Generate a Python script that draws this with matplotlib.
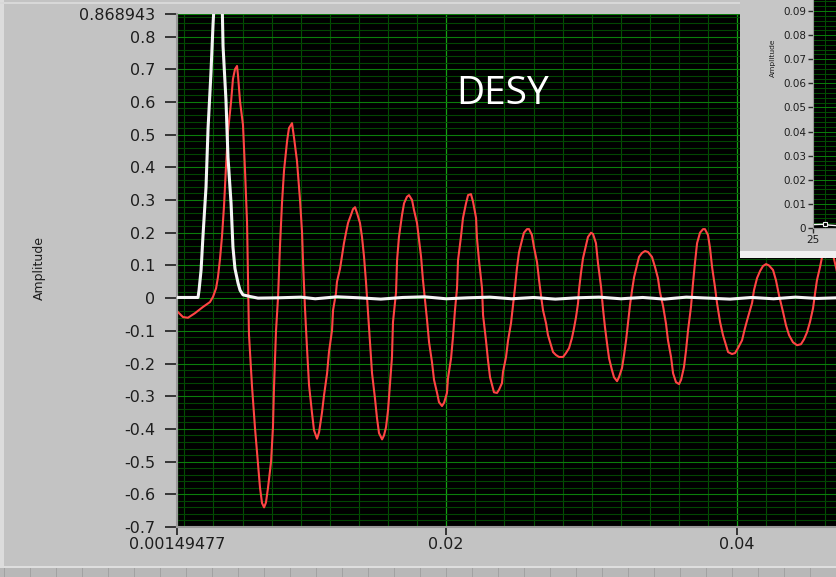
import numpy as np
import matplotlib.pyplot as plt
from matplotlib.patches import Rectangle

# red trace (time in ms, amplitude)
red_t_ms = [1.50, 1.91, 2.25, 2.73, 3.28, 3.76, 3.97, 4.18, 4.31, 4.45, 4.59, 4.73, 4.86, 5.00,
	5.21, 5.34, 5.48, 5.62, 5.69, 5.83, 6.03, 6.17, 6.31, 6.38, 6.44, 6.65, 6.86, 7.06, 7.20,
	7.34, 7.48, 7.61, 7.75, 7.96, 8.09, 8.16, 8.30, 8.44, 8.57, 8.71, 8.85, 9.06, 9.19, 9.40,
	9.54, 9.74, 9.95, 10.09, 10.16, 10.29, 10.43, 10.57, 10.77, 10.91, 11.12, 11.26, 11.46,
	11.60, 11.81, 11.94, 12.15, 12.22, 12.42, 12.49, 12.70, 12.84, 12.97, 13.11, 13.25, 13.45,
	13.59, 13.73, 13.87, 14.07, 14.21, 14.35, 14.49, 14.62, 14.76, 14.90, 15.10, 15.24, 15.38,
	15.59, 15.72, 15.86, 16.00, 16.13, 16.27, 16.34, 16.55, 16.62, 16.75, 16.96, 17.10, 17.30,
	17.44, 17.65, 17.78, 17.99, 18.13, 18.27, 18.40, 18.54, 18.68, 18.82, 19.02, 19.16, 19.37,
	19.50, 19.71, 19.85, 20.05, 20.12, 20.33, 20.46, 20.60, 20.74, 20.81, 21.01, 21.15, 21.36,
	21.50, 21.70, 21.84, 22.05, 22.11, 22.25, 22.46, 22.53, 22.73, 22.87, 23.01, 23.15, 23.28,
	23.49, 23.63, 23.83, 23.90, 24.11, 24.25, 24.45, 24.59, 24.73, 24.86, 25.00, 25.21, 25.34,
	25.55, 25.69, 25.89, 26.03, 26.24, 26.38, 26.51, 26.65, 26.86, 26.99, 27.20, 27.34, 27.54,
	27.75, 28.03, 28.23, 28.44, 28.64, 28.78, 28.92, 29.06, 29.12, 29.26, 29.40, 29.61, 29.74,
	29.95, 30.09, 30.29, 30.43, 30.64, 30.77, 30.91, 31.05, 31.19, 31.39, 31.53, 31.74, 31.87,
	32.08, 32.22, 32.36, 32.49, 32.63, 32.77, 32.91, 33.11, 33.25, 33.45, 33.66, 33.87, 34.14,
	34.35, 34.55, 34.69, 34.90, 35.10, 35.24, 35.45, 35.59, 35.79, 36.00, 36.14, 36.34, 36.48,
	36.62, 36.82, 36.96, 37.10, 37.24, 37.44, 37.65, 37.78, 37.99, 38.13, 38.27, 38.47, 38.61,
	38.82, 39.02, 39.23, 39.37, 39.64, 39.85, 40.05, 40.33, 40.53, 40.74, 41.02, 41.15, 41.36,
	41.57, 41.77, 41.98, 42.18, 42.46, 42.66, 42.87, 43.15, 43.35, 43.56, 43.83, 44.11, 44.38,
	44.59, 44.80, 45.00, 45.21, 45.35, 45.48, 45.69, 45.83, 46.03, 46.24, 46.44, 46.65, 46.86]
red_amp = [-0.040, -0.058, -0.060, -0.046, -0.027, -0.012, 0.004, 0.030, 0.064, 0.120, 0.190,
	0.285, 0.400, 0.510, 0.600, 0.670, 0.700, 0.710, 0.680, 0.600, 0.530, 0.390, 0.230, 0.050,
	-0.110, -0.270, -0.400, -0.505, -0.580, -0.627, -0.640, -0.625, -0.580, -0.500, -0.395,
	-0.275, -0.100, 0.003, 0.156, 0.290, 0.390, 0.480, 0.520, 0.535, 0.490, 0.420, 0.300, 0.200,
	0.107, -0.030, -0.153, -0.266, -0.350, -0.404, -0.430, -0.410, -0.350, -0.297, -0.230,
	-0.165, -0.098, -0.037, 0.015, 0.050, 0.090, 0.130, 0.168, 0.200, 0.230, 0.254, 0.272,
	0.278, 0.260, 0.230, 0.187, 0.126, 0.046, -0.043, -0.138, -0.230, -0.306, -0.367, -0.413,
	-0.432, -0.420, -0.395, -0.343, -0.266, -0.180, -0.073, 0.018, 0.116, 0.187, 0.254, 0.290,
	0.310, 0.315, 0.300, 0.270, 0.230, 0.178, 0.126, 0.055, -0.006, -0.067, -0.135, -0.196,
	-0.250, -0.290, -0.318, -0.330, -0.320, -0.290, -0.245, -0.184, -0.120, -0.037, 0.030,
	0.116, 0.187, 0.245, 0.290, 0.315, 0.318, 0.295, 0.245, 0.184, 0.116, 0.030, -0.052, -0.129,
	-0.190, -0.242, -0.266, -0.288, -0.290, -0.280, -0.260, -0.226, -0.180, -0.129, -0.077,
	-0.021, 0.034, 0.092, 0.140, 0.178, 0.200, 0.211, 0.211, 0.193, 0.156, 0.110, 0.055, 0.009,
	-0.037, -0.077, -0.113, -0.144, -0.165, -0.174, -0.180, -0.180, -0.168, -0.153, -0.122,
	-0.092, -0.058, -0.015, 0.024, 0.077, 0.122, 0.162, 0.187, 0.200, 0.196, 0.168, 0.107,
	0.034, -0.031, -0.089, -0.138, -0.184, -0.220, -0.242, -0.254, -0.242, -0.214, -0.174,
	-0.129, -0.077, -0.021, 0.024, 0.064, 0.100, 0.126, 0.138, 0.144, 0.141, 0.126, 0.095,
	0.061, 0.018, -0.024, -0.077, -0.129, -0.180, -0.230, -0.257, -0.263, -0.250, -0.211,
	-0.160, -0.098, -0.027, 0.046, 0.110, 0.168, 0.200, 0.211, 0.211, 0.193, 0.153, 0.095,
	0.034, -0.015, -0.073, -0.113, -0.144, -0.165, -0.171, -0.168, -0.153, -0.129, -0.092,
	-0.058, -0.015, 0.024, 0.061, 0.083, 0.098, 0.104, 0.100, 0.086, 0.055, 0.009, -0.043,
	-0.083, -0.113, -0.135, -0.144, -0.141, -0.126, -0.104, -0.073, -0.031, 0.015, 0.055,
	0.095, 0.126, 0.160, 0.175, 0.165, 0.120, 0.080]

# white trace (the pulse, then the noisy baseline)
white_t_ms = [1.50, 2.94, 3.01, 3.15, 3.28, 3.49, 3.63, 3.83, 3.97, 4.11, 4.38, 4.59, 4.66,
	4.86, 5.00, 5.21, 5.34, 5.48, 5.69, 5.83, 6.03, 6.51, 7.06, 8.5, 10.0, 11.0, 12.5, 14.0,
	15.5, 17.0, 18.5, 20.0, 21.5, 23.0, 24.5, 26.0, 27.5, 29.0, 30.5, 32.0, 33.5, 35.0, 36.5,
	38.0, 39.5, 41.0, 42.5, 44.0, 45.5, 46.9]
white_amp = [0.002, 0.002, 0.024, 0.086, 0.190, 0.340, 0.520, 0.690, 0.836, 0.950, 1.000,
	0.920, 0.770, 0.606, 0.430, 0.290, 0.156, 0.090, 0.046, 0.024, 0.010, 0.005, 0.000, 0.001,
	0.003, -0.002, 0.004, 0.001, -0.003, 0.002, 0.004, -0.002, 0.001, 0.003, -0.002, 0.002,
	-0.003, 0.001, 0.003, -0.002, 0.002, -0.003, 0.003, 0.000, -0.003, 0.002, -0.002, 0.003,
	-0.001, 0.001]

y_ticks = [-0.7, -0.6, -0.5, -0.4, -0.3, -0.2, -0.1, 0, 0.1, 0.2, 0.3, 0.4, 0.5, 0.6, 0.7, 0.8, 0.868943]
y_labels = ['-0.7', '-0.6', '-0.5', '-0.4', '-0.3', '-0.2', '-0.1', '0', '0.1', '0.2', '0.3',
	'0.4', '0.5', '0.6', '0.7', '0.8', '0.868943']
x_ticks = [0.00149477, 0.02, 0.04]
x_labels = ['0.00149477', '0.02', '0.04']
x_min, x_max = 0.00149477, 0.046788
y_min, y_max = -0.7, 0.868943

# the small graph in the corner
inset_x = [25.0, 25.3, 25.5, 25.7, 26.0]
inset_amp = [0.0014, 0.0015, 0.0015, 0.0012, 0.0010]
inset_ticks = [0, 0.01, 0.02, 0.03, 0.04, 0.05, 0.06, 0.07, 0.08, 0.09]
inset_labels = ['0', '0.01', '0.02', '0.03', '0.04', '0.05', '0.06', '0.07', '0.08', '0.09']

W, H = 836, 577
PANEL = '#c3c3c3'
TXT = '#1e1e1e'


def fx(px):
	return px / W

def fy(py):
	return 1 - py / H

def fig_rect(fig, x0, y0, x1, y1, color, z):
	# rectangle given in screen pixels (y downwards)
	fig.patches.append(Rectangle((fx(x0), fy(y1)), fx(x1) - fx(x0), fy(y0) - fy(y1),
		transform=fig.transFigure, facecolor=color, edgecolor='none', zorder=z))


def main_graph(fig):
	ax = fig.add_axes([fx(177), fy(527), fx(836) - fx(177), fy(14) - fy(527)])
	ax.set_facecolor('black')
	t = np.array(red_t_ms) / 1000.0
	tw = np.array(white_t_ms) / 1000.0
	ax.plot(t, red_amp, color='#ff4444', lw=1.5, zorder=2)
	ax.plot(tw, white_amp, color='#f4f4f4', lw=2.2, zorder=3)
	ax.set_xlim(x_min, x_max)
	ax.set_ylim(y_min, y_max)

	ax.set_yticks(y_ticks)
	ax.set_yticklabels(y_labels)
	ax.set_xticks(x_ticks)
	ax.set_xticklabels(x_labels)
	ax.set_yticks(np.arange(-0.7, 0.87, 0.02), minor=True)
	ax.set_xticks(np.arange(0.002, 0.0468, 0.002), minor=True)
	ax.set_axisbelow(True)
	ax.yaxis.grid(True, which='minor', color='#024602', lw=0.8)
	ax.xaxis.grid(True, which='minor', color='#034e03', lw=0.8)
	ax.yaxis.grid(True, which='major', color='#0b7d0b', lw=0.8)
	ax.xaxis.grid(True, which='major', color='#14a014', lw=0.9)

	ax.tick_params(which='minor', length=0)
	ax.tick_params(axis='y', which='major', direction='out', length=8.5, width=1.3,
		color='#2a2a2a', pad=7, labelsize=11.5, labelcolor=TXT)
	ax.tick_params(axis='x', which='major', direction='out', length=5.5, width=1.3,
		color='#2a2a2a', pad=2, labelsize=11.5, labelcolor=TXT)
	for s in ['top', 'right']:
		ax.spines[s].set_visible(False)
	for s in ['left', 'bottom']:
		ax.spines[s].set_color('#9a9a9a')
		ax.spines[s].set_linewidth(1.5)
	return ax


def corner_graph(fig):
	# grey panel of the second graph lying on top of the first
	fig_rect(fig, 740, 0, 836, 251, '#c6c6c6', 5)
	fig_rect(fig, 740, 251, 836, 258, '#f0f0f0', 5)
	ax = fig.add_axes([fx(813), fy(228), fx(836) - fx(813), fy(0) - fy(228)], zorder=10)
	ax.set_facecolor('black')
	ax.plot(inset_x, inset_amp, color='#f4f4f4', lw=1.0, marker='s', markevery=[2],
		markersize=3.5, markerfacecolor='black', markeredgecolor='#f4f4f4', mew=0.8)
	ax.set_xlim(25, 26)
	ax.set_ylim(0, 0.0946)
	ax.set_yticks(inset_ticks)
	ax.set_yticklabels(inset_labels)
	ax.set_xticks([25])
	ax.set_xticklabels(['25'])
	ax.set_yticks(np.arange(0, 0.095, 0.002), minor=True)
	ax.set_xticks([25.5], minor=True)
	ax.set_axisbelow(True)
	ax.grid(True, which='minor', color='#034e03', lw=0.7)
	ax.grid(True, which='major', color='#0b7d0b', lw=0.7)
	ax.tick_params(which='minor', length=0)
	ax.tick_params(which='major', direction='out', length=3.5, width=1.0, color='#2a2a2a',
		pad=1.5, labelsize=7.5, labelcolor=TXT)
	for s in ['top', 'right']:
		ax.spines[s].set_visible(False)
	for s in ['left', 'bottom']:
		ax.spines[s].set_color('#9a9a9a')
	fig.text(fx(773), fy(58), 'Amplitude', rotation=90, fontsize=5.4, color=TXT,
		ha='center', va='center', zorder=11)


def frame(fig):
	# bits of the front panel around the graph
	fig_rect(fig, 0, 0, 4, 577, '#dcdcdc', 1)
	fig_rect(fig, 0, 2, 740, 4, '#d8d8d8', 1)
	fig_rect(fig, 0, 566, 836, 577, '#b8b8b8', 1)
	fig_rect(fig, 0, 566, 836, 568, '#dedede', 1)
	for px in range(4, 836, 26):
		fig_rect(fig, px, 568, px + 1, 577, '#a2a2a2', 1)


def graph():
	plt.rcdefaults()
	plt.rcParams['font.family'] = ['DejaVu Sans']
	fig = plt.figure(figsize=(W / 100, H / 100), dpi=100, facecolor=PANEL)
	frame(fig)
	main_graph(fig)
	fig.text(fx(39), fy(268), 'Amplitude', rotation=90, fontsize=9, color=TXT,
		ha='center', va='center')
	fig.text(fx(456), fy(104), 'DESY', fontsize=28, color='white', family=['Open Sans', 'DejaVu Sans'],
		ha='left', va='baseline', zorder=4)
	corner_graph(fig)
	fig.savefig('out.png', dpi=100, facecolor=PANEL)


def main():
	graph()

if __name__ == '__main__':
	main()
